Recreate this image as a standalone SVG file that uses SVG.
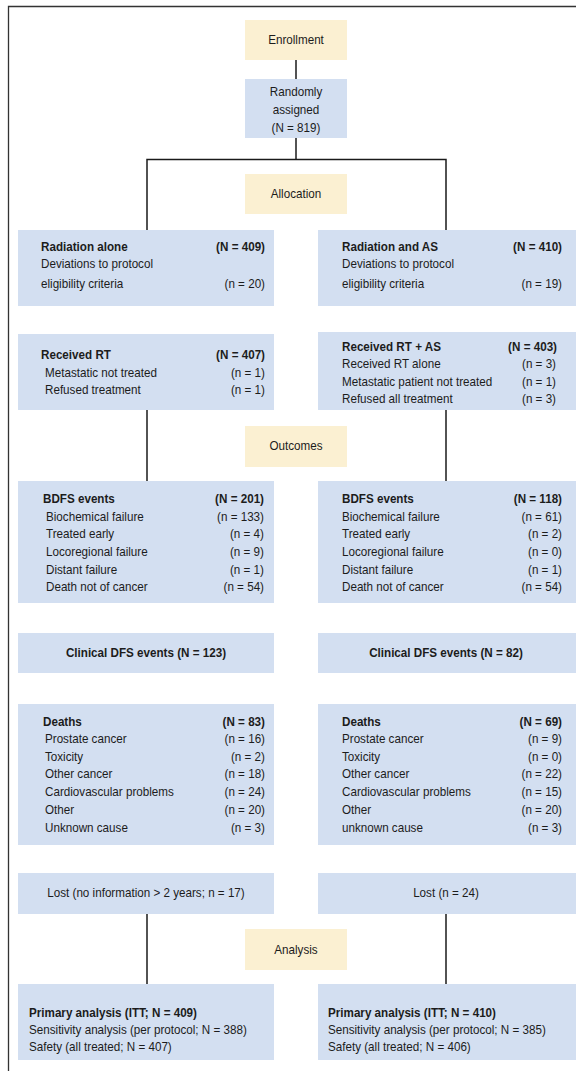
<svg xmlns="http://www.w3.org/2000/svg" width="576" height="1071" viewBox="0 0 576 1071">
  <style>
    .stage { fill: #fbf0d2; }
    .box { fill: #d3dff1; }
    .wire { stroke: #1a1a1a; stroke-width: 1.5; fill: none; }
    .frame { stroke: #333; stroke-width: 1.3; fill: none; }
    text {
      font-family: "Liberation Sans", Arial, sans-serif; font-size: 13.4px; fill: #1c1c1c;
      transform-box: fill-box; transform-origin: 0 50%; transform: scaleX(0.87);
    }
    .b { font-weight: bold; }
    .c { text-anchor: middle; transform-origin: 50% 50%; }
    .r { text-anchor: end; transform-origin: 100% 50%; }
  </style>

  <rect width="576" height="1071" fill="#ffffff"/>
  <!-- page frame -->
  <path class="frame" d="M8.5,1071 V6.5 H576"/>

  <!-- connectors -->
  <g id="connectors">
    <path class="wire" d="M296,60 V79"/>
    <path class="wire" d="M296,138 V159.5"/>
    <path class="wire" d="M147,230 V159.5 H446 V230"/>
    <path class="wire" d="M147,410 V481"/>
    <path class="wire" d="M446,410 V481"/>
    <path class="wire" d="M147,914 V984"/>
    <path class="wire" d="M446,914 V984"/>
  </g>

  <g id="enrollment">
    <rect class="stage" x="245" y="20" width="102" height="40"/>
    <text class="c" x="296" y="44.5">Enrollment</text>
  </g>

  <g id="randomized">
    <rect class="box" x="245" y="79" width="102" height="59"/>
    <text class="c" x="296" y="96">Randomly</text>
    <text class="c" x="296" y="114">assigned</text>
    <text class="c" x="296" y="132">(N = 819)</text>
  </g>

  <g id="allocation">
    <rect class="stage" x="245" y="174" width="102" height="40"/>
    <text class="c" x="296" y="198.5">Allocation</text>
  </g>

  <g id="arm-rt">
    <rect class="box" x="18" y="230" width="256" height="76"/>
    <text class="b" x="41" y="251">Radiation alone</text>
    <text class="b r" x="265" y="251">(N = 409)</text>
    <text x="41" y="268">Deviations to protocol</text>
    <text x="41" y="288">eligibility criteria</text>
    <text class="r" x="265" y="288">(n = 20)</text>
  </g>

  <g id="arm-rt-as">
    <rect class="box" x="318" y="230" width="258" height="76"/>
    <text class="b" x="342" y="251">Radiation and AS</text>
    <text class="b r" x="562" y="251">(N = 410)</text>
    <text x="342" y="268">Deviations to protocol</text>
    <text x="342" y="288">eligibility criteria</text>
    <text class="r" x="562" y="288">(n = 19)</text>
  </g>

  <g id="received-rt">
    <rect class="box" x="18" y="334" width="256" height="76"/>
    <text class="b" x="41" y="359">Received RT</text>
    <text class="b r" x="265" y="359">(N = 407)</text>
    <text x="45" y="377">Metastatic not treated</text>
    <text class="r" x="265" y="377">(n = 1)</text>
    <text x="45" y="394">Refused treatment</text>
    <text class="r" x="265" y="394">(n = 1)</text>
  </g>

  <g id="received-rt-as">
    <rect class="box" x="318" y="332" width="258" height="78"/>
    <text class="b" x="342" y="351">Received RT + AS</text>
    <text class="b r" x="557" y="351">(N = 403)</text>
    <text x="342" y="368.5">Received RT alone</text>
    <text class="r" x="556" y="368.5">(n = 3)</text>
    <text x="342" y="386">Metastatic patient not treated</text>
    <text class="r" x="556" y="386">(n = 1)</text>
    <text x="342" y="403.5">Refused all treatment</text>
    <text class="r" x="556" y="403.5">(n = 3)</text>
  </g>

  <g id="outcomes">
    <rect class="stage" x="245" y="426" width="102" height="41"/>
    <text class="c" x="296" y="450.5">Outcomes</text>
  </g>

  <g id="bdfs-rt">
    <rect class="box" x="18" y="481" width="256" height="122"/>
    <text class="b" x="43" y="503">BDFS events</text>
    <text class="b r" x="264" y="503">(N = 201)</text>
    <text x="46" y="521">Biochemical failure</text>
    <text class="r" x="264" y="521">(n = 133)</text>
    <text x="46" y="538.5">Treated early</text>
    <text class="r" x="264" y="538.5">(n = 4)</text>
    <text x="46" y="556">Locoregional failure</text>
    <text class="r" x="264" y="556">(n = 9)</text>
    <text x="46" y="574">Distant failure</text>
    <text class="r" x="264" y="574">(n = 1)</text>
    <text x="46" y="591.5">Death not of cancer</text>
    <text class="r" x="264" y="591.5">(n = 54)</text>
  </g>

  <g id="bdfs-rt-as">
    <rect class="box" x="318" y="481" width="258" height="122"/>
    <text class="b" x="342" y="503">BDFS events</text>
    <text class="b r" x="562" y="503">(N = 118)</text>
    <text x="342" y="521">Biochemical failure</text>
    <text class="r" x="562" y="521">(n = 61)</text>
    <text x="342" y="538.5">Treated early</text>
    <text class="r" x="562" y="538.5">(n = 2)</text>
    <text x="342" y="556">Locoregional failure</text>
    <text class="r" x="562" y="556">(n = 0)</text>
    <text x="342" y="574">Distant failure</text>
    <text class="r" x="562" y="574">(n = 1)</text>
    <text x="342" y="591.5">Death not of cancer</text>
    <text class="r" x="562" y="591.5">(n = 54)</text>
  </g>

  <g id="clinical-rt">
    <rect class="box" x="18" y="633" width="256" height="40"/>
    <text class="b c" x="146" y="657.5">Clinical DFS events (N = 123)</text>
  </g>

  <g id="clinical-rt-as">
    <rect class="box" x="318" y="633" width="258" height="40"/>
    <text class="b c" x="446" y="657.5">Clinical DFS events (N = 82)</text>
  </g>

  <g id="deaths-rt">
    <rect class="box" x="18" y="704" width="256" height="141"/>
    <text class="b" x="43" y="726">Deaths</text>
    <text class="b r" x="265" y="726">(N = 83)</text>
    <text x="45" y="743.5">Prostate cancer</text>
    <text class="r" x="265" y="743.5">(n = 16)</text>
    <text x="45" y="761">Toxicity</text>
    <text class="r" x="265" y="761">(n = 2)</text>
    <text x="45" y="778.5">Other cancer</text>
    <text class="r" x="265" y="778.5">(n = 18)</text>
    <text x="45" y="796.5">Cardiovascular problems</text>
    <text class="r" x="265" y="796.5">(n = 24)</text>
    <text x="45" y="814">Other</text>
    <text class="r" x="265" y="814">(n = 20)</text>
    <text x="45" y="832">Unknown cause</text>
    <text class="r" x="265" y="832">(n = 3)</text>
  </g>

  <g id="deaths-rt-as">
    <rect class="box" x="318" y="704" width="258" height="141"/>
    <text class="b" x="342" y="726">Deaths</text>
    <text class="b r" x="562" y="726">(N = 69)</text>
    <text x="342" y="743.5">Prostate cancer</text>
    <text class="r" x="562" y="743.5">(n = 9)</text>
    <text x="342" y="761">Toxicity</text>
    <text class="r" x="562" y="761">(n = 0)</text>
    <text x="342" y="778.5">Other cancer</text>
    <text class="r" x="562" y="778.5">(n = 22)</text>
    <text x="342" y="796.5">Cardiovascular problems</text>
    <text class="r" x="562" y="796.5">(n = 15)</text>
    <text x="342" y="814">Other</text>
    <text class="r" x="562" y="814">(n = 20)</text>
    <text x="342" y="832">unknown cause</text>
    <text class="r" x="562" y="832">(n = 3)</text>
  </g>

  <g id="lost-rt">
    <rect class="box" x="18" y="873" width="256" height="41"/>
    <text class="c" x="146" y="897.5">Lost (no information &gt; 2 years; n = 17)</text>
  </g>

  <g id="lost-rt-as">
    <rect class="box" x="318" y="873" width="258" height="41"/>
    <text class="c" x="446" y="897.5">Lost (n = 24)</text>
  </g>

  <g id="analysis">
    <rect class="stage" x="245" y="929" width="102" height="41"/>
    <text class="c" x="296" y="954">Analysis</text>
  </g>

  <g id="analysis-rt">
    <rect class="box" x="18" y="984" width="256" height="76"/>
    <text class="b" x="29" y="1017">Primary analysis (ITT; N = 409)</text>
    <text x="29" y="1034.5">Sensitivity analysis (per protocol; N = 388)</text>
    <text x="29" y="1051.5">Safety (all treated; N = 407)</text>
  </g>

  <g id="analysis-rt-as">
    <rect class="box" x="318" y="984" width="258" height="76"/>
    <text class="b" x="328" y="1017">Primary analysis (ITT; N = 410)</text>
    <text x="328" y="1034.5">Sensitivity analysis (per protocol; N = 385)</text>
    <text x="328" y="1051.5">Safety (all treated; N = 406)</text>
  </g>
</svg>
